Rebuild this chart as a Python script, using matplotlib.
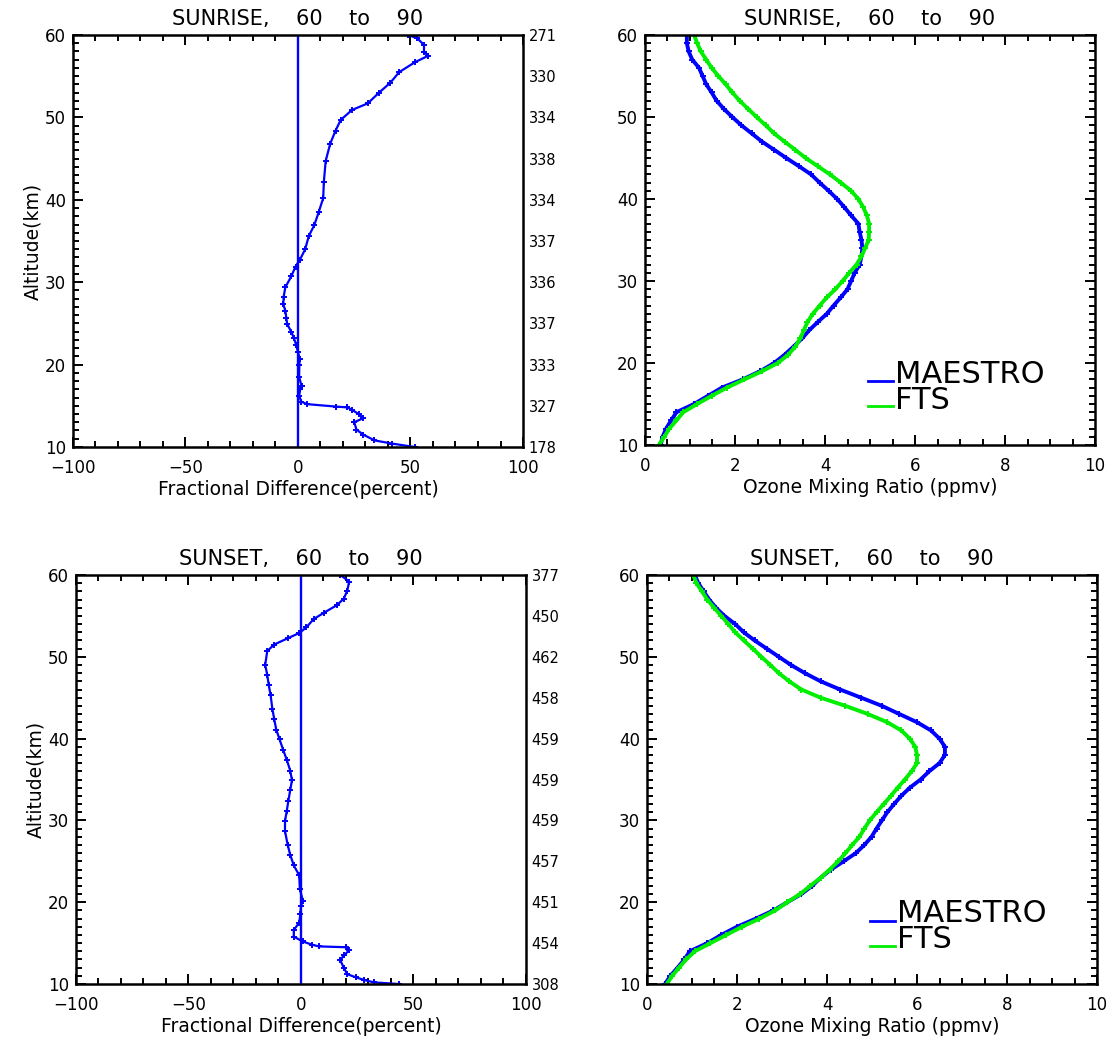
import matplotlib
matplotlib.use('Agg')
import matplotlib.pyplot as plt
from matplotlib.ticker import MultipleLocator

# =============================================
# DATA
# =============================================
# fractional difference, sunrise
alt_rise_diff = [10.0, 10.4, 10.8, 11.5, 12.1, 13.0, 13.5, 14.0, 14.5, 14.8, 14.9, 15.2, 15.5,
                 16.2, 17.0, 17.4, 18.5, 20.0, 20.7, 21.5, 22.4, 23.2, 24.0, 24.9, 25.7, 26.5,
                 27.3, 28.2, 29.4, 30.7, 31.9, 32.7, 34.0, 35.6, 36.9, 38.5, 40.2, 42.2, 44.7,
                 46.8, 48.4, 49.7, 50.9, 51.7, 53.0, 54.2, 55.5, 56.7, 57.5, 57.9, 58.8, 59.6, 60.0]
diff_rise = [51.8, 42, 34, 29, 26, 25, 29, 27, 24, 22, 17, 4, 1.5,
             0.5, 1.0, 1.6, 0.5, 0.6, 0.8, 0.0, -0.8, -1.8, -3.0, -4.8, -5.2, -5.6,
             -6.5, -6.4, -5.6, -3.0, -1.1, 0.8, 3.2, 4.8, 7.2, 9.2, 11.2, 11.5, 12.3,
             14.3, 16.7, 19, 24, 31, 36, 41, 45, 52, 58, 56, 56, 53, 49]

# fractional difference, sunset
alt_set_diff = [10.0, 10.2, 10.5, 10.8, 11.2, 12.0, 12.9, 13.5, 14.1, 14.5, 14.6, 14.8, 15.2,
                15.8, 16.6, 17.5, 18.5, 19.5, 20.2, 21.6, 23.3, 24.5, 25.8, 27.0, 28.7, 29.9,
                31.2, 32.4, 33.7, 34.9, 36.1, 37.4, 38.6, 39.9, 41.1, 42.4, 43.6, 45.3, 46.5,
                47.8, 49.0, 50.7, 51.5, 52.3, 52.9, 53.6, 54.6, 55.4, 56.3, 57.1, 58.1, 59.2, 60.0]
diff_set = [43.6, 32.5, 28, 24.6, 20.6, 19, 17.5, 19, 21.4, 20, 8, 5, 0.8,
            -3.2, -3.2, -0.8, -0.3, 0.0, 0.8, -0.5, -0.8, -3.2, -4.8, -5.9, -7.1, -7.1,
            -6.3, -5.6, -4.8, -4.0, -4.8, -6.3, -7.9, -9.5, -11, -11.9, -12.7, -13.5, -14.3,
            -15, -15.9, -15, -11.9, -5.6, -0.8, 2.4, 5.6, 10.3, 15.9, 19, 20.6, 21.4, 17.5]

# number of coincidences every 5 km (60 -> 10)
count_alts = [60, 55, 50, 45, 40, 35, 30, 25, 20, 15, 10]
counts_rise = ['271', '330', '334', '338', '334', '337', '336', '337', '333', '327', '178']
counts_set = ['377', '450', '462', '458', '459', '459', '459', '457', '451', '454', '308']

# ozone profiles, 10-60 km every 1 km
alt_o3 = list(range(10, 61))
maestro_rise = [0.35, 0.39, 0.47, 0.58, 0.70, 1.09, 1.40, 1.71, 2.17, 2.56,
                2.87, 3.10, 3.30, 3.49, 3.65, 3.84, 4.04, 4.19, 4.35, 4.50,
                4.58, 4.66, 4.77, 4.81, 4.83, 4.81, 4.77, 4.74, 4.58, 4.43,
                4.27, 4.08, 3.88, 3.69, 3.42, 3.14, 2.87, 2.60, 2.37, 2.14,
                1.94, 1.75, 1.59, 1.48, 1.36, 1.28, 1.20, 1.05, 0.97, 0.93, 0.93]
fts_rise = [0.31, 0.43, 0.54, 0.70, 0.85, 1.16, 1.48, 1.82, 2.21, 2.60,
            2.95, 3.18, 3.34, 3.45, 3.53, 3.61, 3.73, 3.88, 4.04, 4.23,
            4.39, 4.54, 4.70, 4.81, 4.89, 4.97, 4.98, 4.98, 4.93, 4.85,
            4.74, 4.58, 4.35, 4.11, 3.84, 3.57, 3.34, 3.10, 2.87, 2.68,
            2.48, 2.29, 2.10, 1.94, 1.79, 1.63, 1.48, 1.36, 1.24, 1.16, 1.09]
maestro_set = [0.40, 0.52, 0.68, 0.83, 0.95, 1.34, 1.65, 2.00, 2.42, 2.81,
               3.12, 3.43, 3.67, 3.86, 4.09, 4.37, 4.64, 4.83, 4.99, 5.10,
               5.22, 5.34, 5.49, 5.65, 5.84, 6.08, 6.27, 6.50, 6.62, 6.62,
               6.50, 6.31, 6.00, 5.61, 5.22, 4.76, 4.29, 3.86, 3.51, 3.20,
               2.93, 2.66, 2.39, 2.15, 1.96, 1.72, 1.53, 1.38, 1.26, 1.14, 1.06]
fts_set = [0.44, 0.56, 0.71, 0.87, 1.06, 1.41, 1.76, 2.11, 2.50, 2.85,
           3.12, 3.40, 3.63, 3.86, 4.06, 4.25, 4.41, 4.56, 4.72, 4.83,
           4.95, 5.10, 5.26, 5.42, 5.57, 5.73, 5.88, 6.00, 6.00, 5.96,
           5.84, 5.65, 5.34, 4.91, 4.41, 3.86, 3.43, 3.16, 2.93, 2.74,
           2.54, 2.35, 2.15, 1.96, 1.81, 1.65, 1.49, 1.34, 1.22, 1.10, 1.03]

BLUE = '#0000ff'
GREEN = '#00ee00'

plt.rcParams['font.family'] = 'DejaVu Sans'


def style_axes(ax, xlim, xmajor, xminor):
    ax.set_xlim(*xlim)
    ax.set_ylim(10, 60)
    ax.xaxis.set_major_locator(MultipleLocator(xmajor))
    ax.xaxis.set_minor_locator(MultipleLocator(xminor))
    ax.yaxis.set_major_locator(MultipleLocator(10))
    ax.yaxis.set_minor_locator(MultipleLocator(1))
    ax.tick_params(which='both', direction='in', top=True, right=True,
                   labelsize=12, width=1.4, colors='black')
    ax.tick_params(which='major', length=7)
    ax.tick_params(which='minor', length=4.5)
    ax.tick_params(axis='x', which='major', pad=8.5)
    ax.tick_params(axis='y', which='major', pad=5)
    for s in ax.spines.values():
        s.set_linewidth(1.8)


def diff_panel(ax, alt, diff, counts, title):
    ax.plot(diff, alt, color=BLUE, lw=1.6, marker='+', ms=4.5, mew=1.4)
    ax.axvline(0, color=BLUE, lw=1.7)
    style_axes(ax, (-100, 100), 50, 10)
    ax.set_title(title, fontsize=15, pad=7)
    ax.set_ylabel('Altitude(km)', fontsize=13.5, labelpad=2)
    ax.set_xlabel('Fractional Difference(percent)', fontsize=13.5, labelpad=2)
    tw = ax.twinx()
    tw.set_ylim(10, 60)
    tw.set_yticks(count_alts)
    tw.set_yticklabels(counts)
    tw.tick_params(length=0, pad=4, labelsize=10.5)
    for s in tw.spines.values():
        s.set_visible(False)


def o3_panel(ax, maestro, fts, title):
    ax.plot(maestro, alt_o3, color=BLUE, lw=2.8, marker='+', ms=4.5, mew=1.4)
    ax.plot(fts, alt_o3, color=GREEN, lw=2.8, marker='+', ms=4.5, mew=1.4)
    style_axes(ax, (0, 10), 2, 0.5)
    ax.set_title(title, fontsize=15, pad=7)
    ax.set_xlabel('Ozone Mixing Ratio (ppmv)', fontsize=13.5, labelpad=2)
    # IDL-style legend: short line at text baseline, tightly stacked labels
    ax.plot([0.496, 0.551], [0.155, 0.155], color=BLUE, lw=2.0, transform=ax.transAxes)
    ax.plot([0.496, 0.551], [0.094, 0.094], color=GREEN, lw=2.0, transform=ax.transAxes)
    ax.text(0.556, 0.089, 'MAESTRO\nFTS', transform=ax.transAxes, fontsize=22,
            va='baseline', ha='left', linespacing=0.87)


fig = plt.figure(figsize=(11.09, 10.39), dpi=100)
ax_tl = fig.add_axes([0.0658, 0.5698, 0.4058, 0.3965])
ax_tr = fig.add_axes([0.5816, 0.5717, 0.4058, 0.3946])
ax_bl = fig.add_axes([0.0685, 0.0529, 0.4058, 0.3937])
ax_br = fig.add_axes([0.5834, 0.0529, 0.4058, 0.3937])

diff_panel(ax_tl, alt_rise_diff, diff_rise, counts_rise, 'SUNRISE,    60    to    90')
o3_panel(ax_tr, maestro_rise, fts_rise, 'SUNRISE,    60    to    90')
diff_panel(ax_bl, alt_set_diff, diff_set, counts_set, 'SUNSET,    60    to    90')
o3_panel(ax_br, maestro_set, fts_set, 'SUNSET,    60    to    90')

fig.savefig('out.png', dpi=100)
